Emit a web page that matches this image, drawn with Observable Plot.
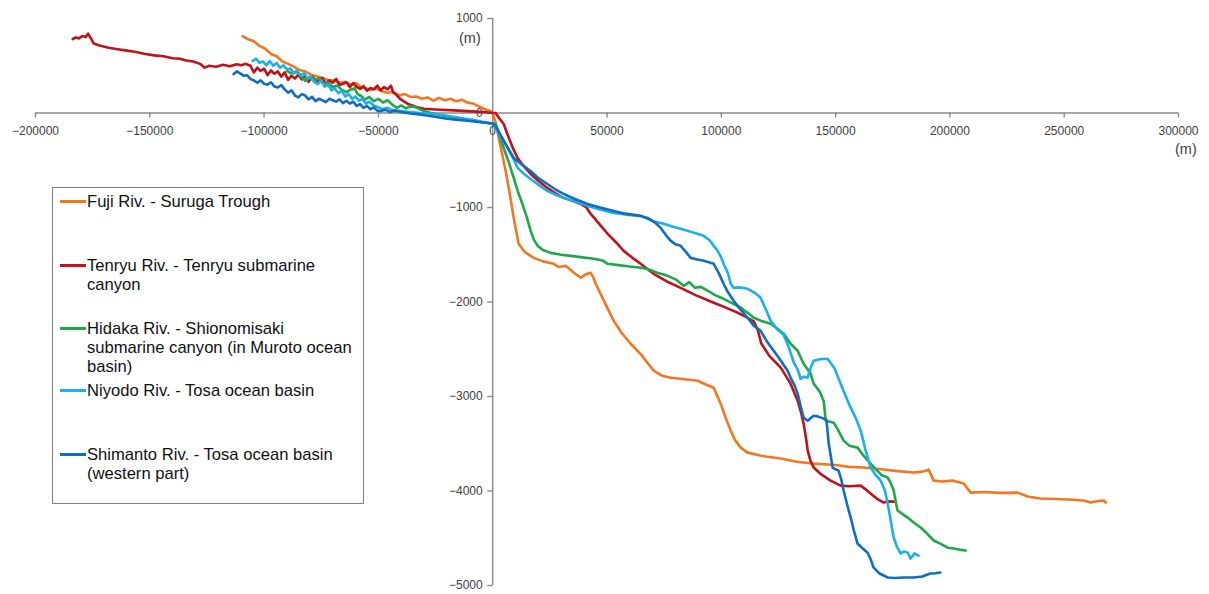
<!DOCTYPE html>
<html>
<head>
<meta charset="utf-8">
<script src="https://cdn.jsdelivr.net/npm/d3@7"></script>
<script src="https://cdn.jsdelivr.net/npm/@observablehq/plot@0.6"></script>
<style>
  html, body { margin: 0; padding: 0; background: #fff; }
  #wrap { position: relative; width: 1209px; height: 594px; font-family: "Liberation Sans", Arial, sans-serif; }
  #legend { position: absolute; left: 52px; top: 187px; width: 312px; height: 317px; border: 1px solid #808080; background: #fff; box-sizing: border-box; }
  .item { position: absolute; left: 0; font-size: 16.6px; line-height: 19px; color: #111; white-space: nowrap; }
  .sw { position: absolute; left: 7px; top: 8px; width: 26px; height: 2.6px; }
  .txt { position: absolute; left: 34px; top: 0; }
  .unit { position: absolute; font-size: 14.5px; color: #404040; }
</style>
</head>
<body>
<div id="wrap"></div>
<script>
// ---- tick labels ----
const xTicks = [-200000, -150000, -100000, -50000, 0, 50000, 100000, 150000, 200000, 250000, 300000];
const yTicks = [1000, 0, -1000, -2000, -3000, -4000, -5000];

// ---- series names & colours ----
const seriesNames = [
  "Fuji Riv. - Suruga Trough",
  "Tenryu Riv. - Tenryu submarine\ncanyon",
  "Hidaka Riv. - Shionomisaki\nsubmarine canyon (in Muroto ocean\nbasin)",
  "Niyodo Riv. - Tosa ocean basin",
  "Shimanto Riv. - Tosa ocean basin\n(western part)"
];
const seriesColors = ["#f5761f", "#c0121b", "#1fa84a", "#1bb0ea", "#0f6ec0"];

// ---- profiles: [distance (m), elevation (m)] ----
const fuji = [[-109400,814],[-107000,780],[-104500,760],[-102000,710],[-99500,680],[-97000,625],[-94500,600],[-92000,545],[-89500,520],[-87000,490],[-84500,455],[-82000,440],[-79500,405],[-77000,390],[-74500,370],[-72000,350],[-69500,345],[-67000,320],[-64500,330],[-62000,300],[-60000,320],[-58000,280],[-56000,265],[-53500,245],[-51000,260],[-48500,230],[-46000,215],[-43500,225],[-41000,185],[-38500,200],[-36000,170],[-33500,175],[-31000,150],[-28500,165],[-26000,130],[-23500,160],[-21000,135],[-18500,150],[-16000,125],[-13500,140],[-11000,110],[-8500,100],[-6500,75],[-5000,60],[-3000,35],[-1000,20],[0,0],
  [1312,-106],[3500,-360],[5686,-613],[7500,-860],[9185,-1110],[11372,-1385],[14000,-1470],[17933,-1533],[22000,-1570],[26681,-1596],[29000,-1630],[31930,-1617],[35000,-1680],[38491,-1744],[40500,-1710],[42865,-1691],[44000,-1740],[45052,-1807],[48500,-1980],[52925,-2199],[56500,-2330],[60361,-2442],[65000,-2560],[70421,-2727],[74000,-2780],[77857,-2801],[83000,-2815],[89667,-2833],[93000,-2870],[96665,-2907],[99727,-3076],[102000,-3230],[104101,-3361],[106000,-3460],[108475,-3541],[111537,-3594],[118000,-3630],[125971,-3657],[133000,-3690],[140405,-3710],[150000,-3725],[156000,-3745],[162275,-3752],[170000,-3770],[177000,-3790],[184145,-3805],[188000,-3795],[190706,-3774],[192893,-3890],[197000,-3900],[201000,-3890],[206015,-3921],[209077,-4017],[215000,-4010],[222000,-4020],[229635,-4017],[234009,-4059],[239695,-4080],[246000,-4085],[252000,-4090],[258503,-4101],[261565,-4122],[265000,-4105],[267251,-4101],[268126,-4122]];

const tenryu = [[-183700,782],[-182500,800],[-181000,790],[-179500,815],[-178000,805],[-177000,840],[-176000,800],[-174500,735],[-172000,715],[-168000,690],[-164000,675],[-160000,660],[-156000,645],[-152000,625],[-148000,610],[-144000,600],[-140000,580],[-137000,575],[-134000,555],[-131000,545],[-128000,520],[-126000,480],[-124000,500],[-121000,490],[-118000,510],[-115000,495],[-112000,515],[-110000,505],[-108000,520],[-106000,500],[-104500,430],[-103000,480],[-101500,445],[-100000,470],[-98500,400],[-97000,450],[-95500,415],[-94000,440],[-92500,385],[-91000,430],[-89500,350],[-88000,395],[-86500,365],[-85000,405],[-83500,355],[-82000,395],[-80500,330],[-79000,385],[-77500,345],[-76000,335],[-74500,370],[-73000,305],[-71500,345],[-70000,320],[-68500,360],[-67000,295],[-65500,310],[-64000,325],[-62500,275],[-61000,315],[-59500,275],[-58000,255],[-56500,285],[-55000,235],[-53500,265],[-52000,250],[-50500,290],[-49000,240],[-47500,275],[-46000,250],[-44500,290],[-43500,215],[-42000,190],[-40500,150],[-39000,125],[-37000,95],[-35000,80],[-33000,60],[-30000,45],[-27000,40],[-23000,35],[-19000,30],[-15000,25],[-11000,20],[-7000,15],[-4000,10],[-2000,5],[0,0],
  [1300,0],[3000,-60],[4800,-116],[7000,-260],[9000,-380],[10900,-476],[13500,-560],[16600,-645],[20000,-720],[23900,-793],[27500,-850],[31000,-898],[35000,-930],[38500,-962],[41000,-1000],[42900,-1068],[46500,-1170],[50300,-1279],[54000,-1370],[57300,-1459],[61000,-1530],[64700,-1596],[70400,-1702],[76000,-1780],[82200,-1850],[89000,-1930],[96700,-2008],[102000,-2060],[107200,-2114],[111000,-2160],[114200,-2205],[116000,-2300],[117500,-2440],[121000,-2570],[126000,-2695],[130300,-2864],[133400,-3044],[135000,-3180],[136000,-3287],[137000,-3430],[137800,-3573],[139000,-3680],[140400,-3752],[144000,-3830],[147800,-3890],[152200,-3943],[156000,-3950],[161000,-3943],[163000,-3980],[165300,-4027],[168000,-4080],[171000,-4122],[173000,-4110],[175400,-4112]];

const hidaka = [[-90000,444],[-88000,420],[-86000,440],[-84000,390],[-82000,340],[-80000,370],[-78000,340],[-76000,370],[-74000,305],[-72000,320],[-70000,275],[-68000,290],[-66000,245],[-64000,220],[-62000,250],[-60500,260],[-59000,200],[-57500,180],[-56000,140],[-54000,170],[-52000,125],[-50000,150],[-48000,110],[-46000,135],[-44000,90],[-42000,55],[-40000,80],[-38000,50],[-36000,70],[-34000,65],[-32000,40],[-30000,20],[-27000,0],[-24000,-15],[-20000,-35],[-16000,-55],[-12000,-70],[-8000,-85],[-4000,-100],[0,-112],
  [1300,-116],[3000,-240],[4800,-370],[7000,-520],[9200,-687],[11000,-830],[13000,-962],[15000,-1110],[16600,-1247],[18000,-1340],[19700,-1406],[22000,-1450],[25400,-1480],[30000,-1500],[34100,-1512],[38500,-1525],[44200,-1543],[48000,-1560],[50300,-1596],[55000,-1610],[60000,-1625],[64700,-1638],[67800,-1650],[72000,-1690],[76500,-1723],[80000,-1760],[83500,-1829],[86000,-1790],[88500,-1850],[91000,-1840],[94100,-1881],[97500,-1930],[101000,-1966],[104500,-2010],[108500,-2061],[111500,-2114],[114200,-2167],[117500,-2200],[121600,-2230],[124000,-2272],[127300,-2336],[130300,-2442],[133400,-2516],[136000,-2653],[139100,-2760],[140400,-2864],[142200,-2920],[143500,-2970],[144800,-3050],[145700,-3256],[149200,-3277],[151000,-3350],[153500,-3467],[156000,-3520],[159600,-3541],[162000,-3620],[165300,-3710],[168000,-3780],[170000,-3830],[172800,-3858],[174000,-3910],[175400,-3995],[176200,-4100],[177100,-4207],[179000,-4240],[181500,-4281],[184000,-4330],[187200,-4387],[190000,-4450],[192900,-4524],[196000,-4560],[199000,-4600],[201600,-4609],[204000,-4620],[206900,-4630]];

const niyodo = [[-105000,550],[-103500,575],[-102000,530],[-100500,545],[-99000,505],[-97500,550],[-96000,500],[-94500,530],[-93000,480],[-91500,505],[-90000,460],[-88500,470],[-87000,420],[-85500,445],[-84000,400],[-82500,420],[-81000,370],[-79500,390],[-78000,330],[-76500,305],[-75000,345],[-73500,280],[-72000,300],[-70500,240],[-69000,260],[-67500,210],[-66000,235],[-64500,175],[-63000,200],[-61500,150],[-60000,175],[-58500,130],[-57000,150],[-55500,100],[-54000,120],[-52000,80],[-50000,60],[-48000,40],[-46000,55],[-44000,30],[-42000,25],[-40000,20],[-36000,10],[-32000,0],[-28000,-5],[-24000,-15],[-20000,-30],[-16000,-45],[-12000,-60],[-8000,-75],[-4000,-95],[0,-116],
  [1300,-159],[4000,-270],[6600,-370],[9000,-480],[10900,-581],[13500,-640],[16600,-698],[20000,-760],[23900,-824],[28000,-870],[32800,-909],[37000,-945],[41500,-983],[47000,-1020],[52900,-1057],[58000,-1075],[64700,-1089],[67800,-1120],[71000,-1150],[74800,-1173],[78500,-1200],[82200,-1226],[87000,-1260],[92300,-1300],[95000,-1350],[96700,-1406],[98400,-1459],[100000,-1530],[101000,-1596],[103000,-1700],[104100,-1807],[105400,-1850],[108000,-1845],[111500,-1860],[114500,-1900],[117200,-1955],[119500,-2080],[121600,-2199],[124500,-2290],[127300,-2350],[129500,-2480],[131700,-2640],[133500,-2720],[134700,-2812],[136200,-2790],[137800,-2801],[139000,-2700],[140400,-2621],[143000,-2605],[146500,-2600],[149500,-2700],[152200,-2864],[154500,-3000],[156600,-3118],[159000,-3240],[161000,-3361],[163000,-3560],[165300,-3752],[167500,-3830],[169700,-3890],[171500,-3990],[172800,-4133],[174000,-4300],[175400,-4492],[177000,-4600],[178500,-4661],[180000,-4640],[181500,-4651],[182800,-4715],[184500,-4660],[186300,-4683]];

const shimanto = [[-113300,412],[-112000,440],[-110500,420],[-109000,395],[-107500,400],[-106000,360],[-104500,345],[-103000,320],[-101500,345],[-100000,310],[-98500,300],[-97000,325],[-95500,280],[-94000,270],[-92500,295],[-91000,250],[-89500,215],[-88000,240],[-86500,185],[-85000,165],[-83500,200],[-82000,185],[-80500,145],[-79000,170],[-77500,125],[-76000,150],[-74500,135],[-73000,115],[-71500,150],[-70000,135],[-68500,120],[-67000,145],[-65500,105],[-64000,130],[-62500,100],[-61000,120],[-59500,75],[-58000,95],[-56500,55],[-55000,75],[-53500,40],[-52000,60],[-50500,25],[-49000,20],[-47000,35],[-45000,10],[-43000,25],[-41000,15],[-39000,5],[-36000,-5],[-32000,-15],[-28000,-30],[-24000,-45],[-20000,-60],[-16000,-70],[-12000,-80],[-8000,-90],[-4000,-100],[0,-110],
  [1300,-137],[5000,-300],[9200,-476],[13000,-550],[16600,-613],[20000,-690],[23900,-751],[27500,-810],[31000,-856],[36000,-910],[41500,-962],[47000,-1000],[52900,-1036],[58000,-1065],[64700,-1089],[67800,-1110],[71000,-1160],[73500,-1216],[76000,-1300],[77900,-1353],[80000,-1390],[82200,-1406],[84500,-1470],[86600,-1533],[89500,-1550],[92300,-1564],[94500,-1580],[96700,-1596],[99000,-1700],[101000,-1807],[103000,-1900],[105400,-1987],[108500,-2080],[111500,-2167],[114200,-2250],[117200,-2304],[120000,-2420],[122900,-2516],[126000,-2620],[129000,-2727],[130300,-2800],[132000,-2880],[133400,-2970],[134700,-3100],[136000,-3224],[137800,-3256],[139000,-3230],[140400,-3203],[142200,-3210],[144800,-3234],[146000,-3250],[147000,-3499],[148700,-3752],[150000,-3770],[151300,-3784],[152500,-3880],[153500,-3995],[155000,-4140],[156600,-4281],[158000,-4420],[159600,-4556],[161500,-4600],[163900,-4651],[165300,-4720],[166600,-4809],[169000,-4870],[172800,-4915],[176000,-4920],[180000,-4915],[184100,-4915],[188000,-4905],[191400,-4873],[193500,-4870],[195800,-4862]];

const profiles = [fuji, tenryu, hidaka, niyodo, shimanto];

// ---- layout ----
const W = 1209, H = 594;
const M = {left: 35, right: 31, top: 18, bottom: 9};
const xDomain = [-200000, 300000], yDomain = [-5000, 1000];
const axisColor = "#8a8a8a", labelColor = "#404040";
const tickPx = 5;
const xPerPx = (xDomain[1] - xDomain[0]) / (W - M.left - M.right);
const yPerPx = (yDomain[1] - yDomain[0]) / (H - M.top - M.bottom);
const fmt = d3.format("d");

const lineMarks = profiles.map((p, i) =>
  Plot.line(p, {x: d => d[0], y: d => d[1], stroke: seriesColors[i], strokeWidth: 2.6, strokeLinejoin: "round", strokeLinecap: "round"})
);

const chart = Plot.plot({
  width: W, height: H,
  marginLeft: M.left, marginRight: M.right, marginTop: M.top, marginBottom: M.bottom,
  x: {domain: xDomain, axis: null},
  y: {domain: yDomain, axis: null},
  style: {background: "#fff", fontFamily: "'Liberation Sans', Arial, sans-serif"},
  marks: [
    Plot.ruleY([0], {x1: xDomain[0], x2: xDomain[1], stroke: axisColor, strokeWidth: 1.4}),
    Plot.ruleX([0], {y1: yDomain[0], y2: yDomain[1], stroke: axisColor, strokeWidth: 1.4}),
    Plot.ruleX(xTicks, {x: d => d, y1: 0, y2: -tickPx * yPerPx, stroke: axisColor, strokeWidth: 1.4}),
    Plot.ruleY(yTicks, {y: d => d, x1: 0, x2: -tickPx * xPerPx, stroke: axisColor, strokeWidth: 1.4}),
    Plot.text(xTicks, {x: d => d, y: 0, text: d => fmt(d), dy: 18, fontSize: 12, fill: labelColor}),
    Plot.text(yTicks, {x: 0, y: d => d, text: d => fmt(d), dx: -10, textAnchor: "end", fontSize: 12, fill: labelColor}),
    ...lineMarks
  ]
});

const wrap = document.getElementById("wrap");
wrap.appendChild(chart);

// unit labels
const u1 = document.createElement("div");
u1.className = "unit"; u1.textContent = "(m)";
u1.style.left = "459px"; u1.style.top = "30px";
wrap.appendChild(u1);
const u2 = document.createElement("div");
u2.className = "unit"; u2.textContent = "(m)";
u2.style.left = "1175px"; u2.style.top = "141px";
wrap.appendChild(u2);

// legend (inside plot area)
const legend = document.createElement("div");
legend.id = "legend";
const itemTops = [4, 68, 131, 193, 257];
seriesNames.forEach((name, i) => {
  const it = document.createElement("div");
  it.className = "item";
  it.style.top = itemTops[i] + "px";
  const sw = document.createElement("div");
  sw.className = "sw"; sw.style.background = seriesColors[i];
  const tx = document.createElement("div");
  tx.className = "txt";
  tx.innerHTML = name.split("\n").join("<br>");
  it.appendChild(sw); it.appendChild(tx);
  legend.appendChild(it);
});
wrap.appendChild(legend);
</script>
</body>
</html>
